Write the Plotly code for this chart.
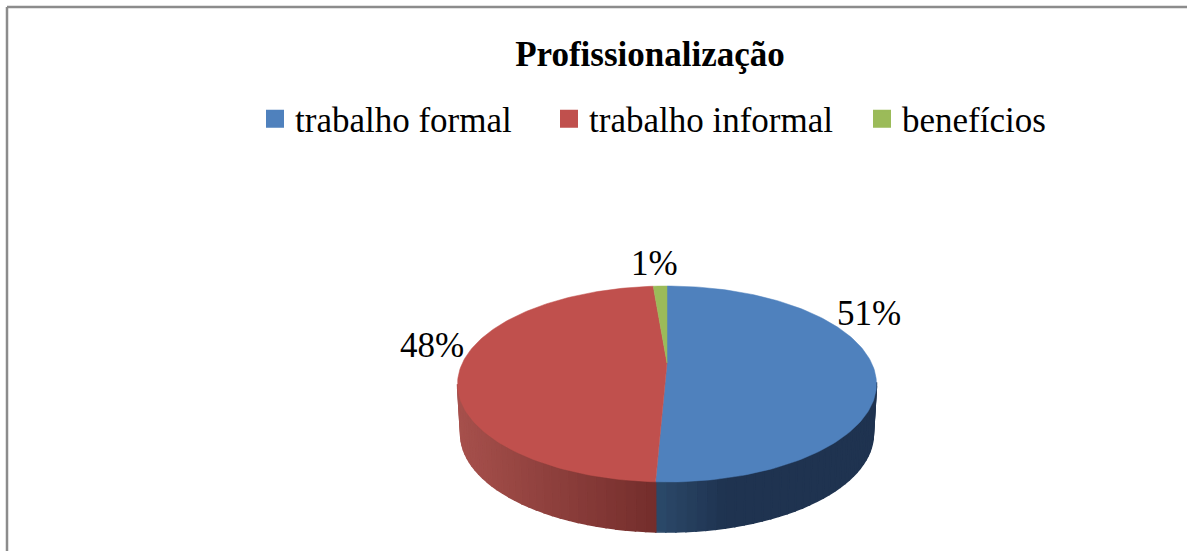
import numpy as np
import plotly.graph_objects as go

TITLE = "Profissionalização"
categories = ["trabalho formal", "trabalho informal", "benefícios"]
values = [50.7, 48.0, 1.3]
colors = ["#4f81bd", "#c0504d", "#9bbb59"]
wall_start = ["#2c4a6b", "#a6504c", "#7f9a48"]
wall_end = ["#1f3350", "#742e2c", "#7f9a48"]
FONT = "Liberation Serif"

W, H = 1187, 551
APEX_X, APEX_Y = 667, 363     # projected pie centre
A, B, K = 204.6, 93.5, 0.2143  # projective disc parameters
DEPTH = 50
SHRINK = 0.985
LEGEND_X = [255, 549, 862]


def rim(theta):
    """Project disc rim at clockwise angle theta (0 = back of the pie)."""
    u, v = np.sin(theta), -np.cos(theta)
    w = 1 - K * v
    return APEX_X + A * u / w, APEX_Y + B * v / w


def hex2rgb(h):
    return np.array([int(h[i:i + 2], 16) for i in (1, 3, 5)], float)


def shade(i, x):
    if i == 0:
        f = np.clip((x - 655) / 70, 0, 1)
    else:
        f = np.clip((x - 460) / 195, 0, 1)
    c = hex2rgb(wall_start[i]) * (1 - f) + hex2rgb(wall_end[i]) * f
    return "rgb(%d,%d,%d)" % tuple(c)


fractions = np.array(values) / sum(values)
edges = np.concatenate([[0], np.cumsum(fractions)]) * 2 * np.pi

fig = go.Figure()

# side wall, drawn as thin shaded strips (front part of the rim only)
for i in range(len(values)):
    n = max(2, int(fractions[i] * 160))
    ts = np.linspace(edges[i], edges[i + 1], n + 1)
    for t0, t1 in zip(ts[:-1], ts[1:]):
        x0, y0 = rim(t0)
        x1, y1 = rim(t1)
        if np.cos((t0 + t1) / 2) > -0.2:
            continue
        bx0 = APEX_X + (x0 - APEX_X) * SHRINK
        bx1 = APEX_X + (x1 - APEX_X) * SHRINK
        col = shade(i, (x0 + x1) / 2)
        fig.add_trace(go.Scatter(
            x=[x0, x1, bx1, bx0, x0], y=[y0, y1, y1 + DEPTH, y0 + DEPTH, y0],
            mode="lines", fill="toself", fillcolor=col,
            line=dict(color=col, width=1.6), showlegend=False, hoverinfo="skip"))

# top face
for i, name in enumerate(categories):
    ts = np.linspace(edges[i], edges[i + 1], max(4, int(fractions[i] * 300)))
    xs, ys = rim(ts)
    fig.add_trace(go.Scatter(
        x=np.concatenate([[APEX_X], xs, [APEX_X]]),
        y=np.concatenate([[APEX_Y], ys, [APEX_Y]]),
        mode="lines", fill="toself", fillcolor=colors[i],
        line=dict(color=colors[i], width=0.5), showlegend=False,
        name=name, hoverinfo="name"))

# legend entries, one legend each so that they can sit apart
legend_layout = {}
for i, name in enumerate(categories):
    key = "legend" if i == 0 else "legend%d" % (i + 1)
    fig.add_trace(go.Scatter(
        x=[None], y=[None], mode="markers", name=name, legend=key,
        marker=dict(symbol="square", size=16, color=colors[i],
                    line=dict(color=colors[i], width=2))))
    legend_layout[key] = dict(
        orientation="h", x=LEGEND_X[i] / W, y=1 - 119 / H, xanchor="left",
        yanchor="middle", font=dict(family=FONT, size=35, color="black"),
        itemsizing="trace", itemwidth=30, bgcolor="rgba(0,0,0,0)")

label_pos = [(869, 313), (432, 345), (654, 263)]
annotations = [
    dict(x=p[0], y=p[1], xref="x", yref="y", showarrow=False,
         text="%d%%" % round(v), font=dict(family=FONT, size=35, color="black"))
    for v, p in zip(values, label_pos)
]

fig.update_layout(
    width=W, height=H, autosize=False,
    margin=dict(l=0, r=0, t=0, b=0),
    paper_bgcolor="white", plot_bgcolor="white",
    title=dict(text="<b>%s</b>" % TITLE, x=650 / W, xanchor="center",
               y=1 - 54 / H, yanchor="middle",
               font=dict(family=FONT, size=35, color="black")),
    xaxis=dict(range=[0, W], visible=False, fixedrange=True),
    yaxis=dict(range=[H, 0], visible=False, fixedrange=True),
    annotations=annotations,
    shapes=[
        dict(type="line", xref="x", yref="y", x0=7, y0=7, x1=W, y1=7,
             line=dict(color="#8c8c8c", width=2.5)),
        dict(type="line", xref="x", yref="y", x0=7, y0=7, x1=7, y1=H,
             line=dict(color="#8c8c8c", width=2.5)),
    ],
    **legend_layout,
)

fig.write_html("out.html", config={"displayModeBar": False},
               post_script="document.body.style.margin='0';")
